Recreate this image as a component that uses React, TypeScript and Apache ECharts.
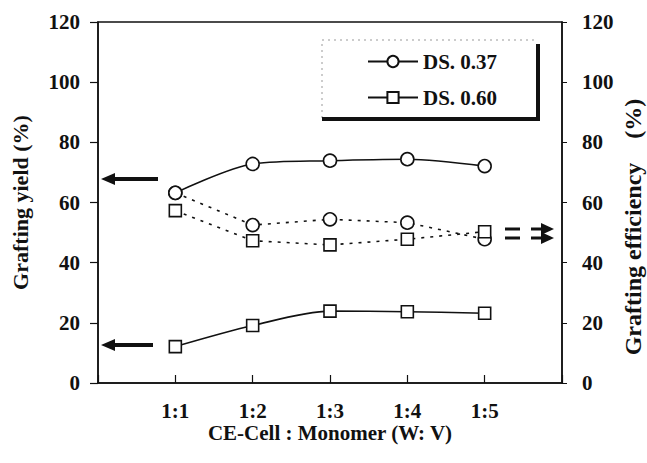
import React, { useEffect, useRef } from "react";
import * as echarts from "echarts";

const categories = ["1:1", "1:2", "1:3", "1:4", "1:5"];
const yieldDS037 = [63.2, 72.8, 73.9, 74.4, 72.1];
const yieldDS060 = [12.1, 19.1, 23.9, 23.7, 23.2];
const effDS037 = [63.2, 52.5, 54.4, 53.3, 47.8];
const effDS060 = [57.3, 47.3, 45.9, 47.8, 50.3];
const yTicks = [0, 20, 40, 60, 80, 100, 120];

const FONT = "'Liberation Serif', 'Times New Roman', serif";
const FS = 21;

export default function App() {
  const ref = useRef<HTMLDivElement>(null);
  useEffect(() => {
    if (!ref.current) return;
    const chart = echarts.init(ref.current, undefined, { renderer: "svg" });
    const xCats = [" ", ...categories, "  "];
    const toData = (vals: number[]) => categories.map((c, i) => [c, vals[i]]);
    const txt = { fontFamily: FONT, fontWeight: "bold", fontSize: FS, color: "#111" };
    const sym = (shape: string, size: number) => ({
      symbol: shape,
      symbolSize: size,
      showSymbol: true,
      itemStyle: { color: "#fff", borderColor: "#111", borderWidth: 1.6 },
    });
    const arrowLeft = (x: number, y: number, len: number) => ({
      type: "group",
      children: [
        { type: "rect", shape: { x: x + 12, y: y - 2, width: len - 12, height: 4 }, style: { fill: "#111" } },
        { type: "polygon", shape: { points: [[x, y], [x + 14, y - 6], [x + 14, y + 6]] }, style: { fill: "#111" } },
      ],
    });
    const arrowRight = (y: number) => ({
      type: "group",
      children: [
        { type: "rect", shape: { x: 505, y: y - 1.5, width: 15, height: 3 }, style: { fill: "#111" } },
        { type: "rect", shape: { x: 531, y: y - 1.5, width: 12, height: 3 }, style: { fill: "#111" } },
        { type: "polygon", shape: { points: [[554, y], [541, y - 6], [541, y + 6]] }, style: { fill: "#111" } },
      ],
    });
    chart.setOption({
      animation: false,
      backgroundColor: "#fff",
      textStyle: { fontFamily: FONT },
      grid: {
        left: 98,
        right: 85,
        top: 22,
        bottom: 80,
        outerBoundsMode: "none",
        containLabel: false,
        show: true,
        borderColor: "#111",
        borderWidth: 1.5,
      },
      legend: {
        data: ["DS. 0.37", "DS. 0.60"],
        orient: "vertical",
        left: 367,
        top: 51,
        padding: 0,
        itemWidth: 50,
        itemHeight: 14,
        itemGap: 15,
        selectedMode: false,
        textStyle: txt,
      },
      xAxis: {
        type: "category",
        data: xCats,
        boundaryGap: false,
        name: "CE-Cell : Monomer (W: V)",
        nameLocation: "middle",
        nameGap: 39,
        nameMoveOverlap: false,
        nameTextStyle: txt,
        axisLine: { lineStyle: { color: "#111", width: 1.5 } },
        axisTick: { inside: true, length: 8, lineStyle: { color: "#111", width: 1.2 } },
        axisLabel: { margin: 17, ...txt },
        splitLine: { show: false },
      },
      yAxis: [
        {
          type: "value",
          min: 0,
          max: 120,
          interval: 20,
          name: "Grafting yield (%)",
          nameLocation: "middle",
          nameRotate: 90,
          nameGap: 67,
          nameTextStyle: { ...txt, fontSize: 22 },
          axisLine: { show: true, lineStyle: { color: "#111", width: 1.5 } },
          axisTick: { show: true, inside: false, length: 8, lineStyle: { color: "#111", width: 1.2 } },
          axisLabel: {
            margin: 18,
            ...txt,
            formatter: (v: number) => (yTicks.includes(v) ? String(v) : ""),
          },
          splitLine: { show: false },
        },
        {
          type: "value",
          position: "right",
          min: 0,
          max: 120,
          interval: 20,
          axisLine: { show: true, lineStyle: { color: "#111", width: 1.5 } },
          axisTick: { show: true, inside: false, length: 5, lineStyle: { color: "#111", width: 1 } },
          axisLabel: { margin: 20, ...txt },
          splitLine: { show: false },
        },
      ],
      series: [
        {
          name: "DS. 0.37",
          type: "line",
          yAxisIndex: 0,
          data: toData(yieldDS037),
          smooth: 0.3,
          lineStyle: { color: "#111", width: 1.6, type: "solid" },
          ...sym("circle", 13),
          z: 3,
        },
        {
          name: "DS. 0.60",
          type: "line",
          yAxisIndex: 0,
          data: toData(yieldDS060),
          smooth: 0.3,
          lineStyle: { color: "#111", width: 1.6, type: "solid" },
          ...sym("rect", 12),
          z: 3,
        },
        {
          name: "DS. 0.37 (efficiency)",
          type: "line",
          yAxisIndex: 1,
          data: toData(effDS037),
          lineStyle: { color: "#111", width: 1.6, type: [3, 6] },
          ...sym("circle", 13),
          z: 2,
        },
        {
          name: "DS. 0.60 (efficiency)",
          type: "line",
          yAxisIndex: 1,
          data: toData(effDS060),
          lineStyle: { color: "#111", width: 1.6, type: [3, 6] },
          ...sym("rect", 12),
          z: 2,
        },
      ],
      graphic: [
        {
          type: "text",
          x: 633,
          y: 227,
          rotation: Math.PI / 2,
          style: {
            text: "Grafting efficiency    (%)",
            font: `bold 24px ${FONT}`,
            fill: "#111",
            align: "center",
            verticalAlign: "middle",
          },
        },
        {
          type: "polyline",
          shape: { points: [[322, 118], [322, 40], [538, 40]] },
          style: { stroke: "#999", lineWidth: 1, lineDash: [2, 4], fill: null },
          z: 10,
        },
        {
          type: "polyline",
          shape: { points: [[322, 119], [538, 119], [538, 44]] },
          style: { stroke: "#111", lineWidth: 4, fill: null },
          z: 10,
        },
        arrowLeft(101, 179, 57),
        arrowLeft(101, 345, 52),
        arrowRight(229),
        arrowRight(238),
      ],
    });
    return () => chart.dispose();
  }, []);
  return (
    <div
      ref={ref}
      style={{ position: "absolute", left: 0, top: 0, width: 647, height: 463 }}
    />
  );
}
